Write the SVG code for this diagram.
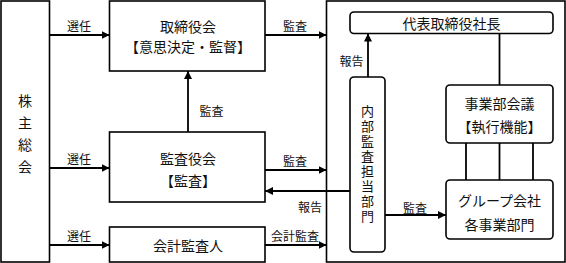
<svg xmlns="http://www.w3.org/2000/svg" width="566" height="263" viewBox="0 0 566 263">
<defs>
<marker id="ah" markerWidth="8" markerHeight="8" refX="8" refY="4" orient="auto" markerUnits="userSpaceOnUse">
<path d="M0,0 L8,4 L0,8 Z" fill="#000"/>
</marker>
<style>
.box{fill:#fff;stroke:#000;stroke-width:1.6}
.t{font-family:"Noto Sans CJK JP","Noto Sans",sans-serif;font-size:14px;fill:#111;text-anchor:middle;dominant-baseline:central}
.v{font-family:"Noto Sans CJK JP","Noto Sans",sans-serif;font-size:13px;fill:#111;text-anchor:middle;writing-mode:vertical-rl;letter-spacing:2px}
.s{font-family:"Noto Sans CJK JP","Noto Sans",sans-serif;font-size:12px;fill:#111;text-anchor:middle;dominant-baseline:central}
.c{fill:none;stroke:#000;stroke-width:1.8}
.a{fill:none;stroke:#000;stroke-width:1.8;marker-end:url(#ah)}
</style>
</defs>
<rect width="566" height="263" fill="#fff"/>
<g id="exec-area"><rect class="box" x="326.5" y="1" width="238.5" height="261"/></g>
<g id="shareholders">
<rect class="box" x="1" y="1" width="48.5" height="261"/>
<text class="t" x="25" y="100">株</text>
<text class="t" x="25" y="122">主</text>
<text class="t" x="25" y="144">総</text>
<text class="t" x="25" y="166">会</text>
</g>
<g id="board">
<rect class="box" x="109.5" y="1" width="155.5" height="70"/>
<text class="t" x="188" y="26">取締役会</text>
<text class="t" x="188" y="46">【意思決定・監督】</text>
</g>
<g id="audit-board">
<rect class="box" x="109.5" y="132" width="155.5" height="70"/>
<text class="t" x="188" y="158">監査役会</text>
<text class="t" x="188" y="180">【監査】</text>
</g>
<g id="accounting-auditor">
<rect class="box" x="109.5" y="227" width="155.5" height="35"/>
<text class="t" x="188" y="245">会計監査人</text>
</g>
<g id="president">
<rect class="box" x="350" y="12" width="203" height="21.5" rx="4"/>
<text class="t" x="451.5" y="22.5">代表取締役社長</text>
</g>
<g id="internal-audit">
<rect class="box" x="350" y="77" width="35" height="175" rx="4"/>
<text class="v" x="367.5" y="165">内部監査担当部門</text>
</g>
<g id="division-meeting">
<rect class="box" x="446" y="85" width="107" height="58" rx="4"/>
<text class="t" x="499.5" y="103">事業部会議</text>
<text class="t" x="499.5" y="126">【執行機能】</text>
</g>
<g id="group-companies">
<rect class="box" x="446" y="180" width="107" height="59" rx="4"/>
<text class="t" x="499.5" y="200">グループ会社</text>
<text class="t" x="499.5" y="224">各事業部門</text>
</g>
<g id="connectors">
<line class="a" x1="49.5" y1="35" x2="109.5" y2="35"/>
<line class="a" x1="49.5" y1="168" x2="109.5" y2="168"/>
<line class="a" x1="49.5" y1="245" x2="109.5" y2="245"/>
<line class="a" x1="188" y1="132" x2="188" y2="71"/>
<line class="a" x1="265" y1="35" x2="326.5" y2="35"/>
<line class="a" x1="265" y1="170" x2="326.5" y2="170"/>
<line class="a" x1="350" y1="191" x2="265" y2="191"/>
<line class="a" x1="265" y1="245" x2="326.5" y2="245"/>
<line class="a" x1="368" y1="77" x2="368" y2="33.5"/>
<line class="a" x1="385" y1="215" x2="446" y2="215"/>
<line class="c" x1="499.5" y1="33.5" x2="499.5" y2="85"/>
<line class="c" x1="466" y1="143" x2="466" y2="180"/>
<line class="c" x1="499.5" y1="143" x2="499.5" y2="180"/>
<line class="c" x1="533" y1="143" x2="533" y2="180"/>
<text class="s" x="79" y="25">選任</text>
<text class="s" x="79" y="158">選任</text>
<text class="s" x="79" y="235">選任</text>
<text class="s" x="211.5" y="110">監査</text>
<text class="s" x="295" y="25">監査</text>
<text class="s" x="295" y="160">監査</text>
<text class="s" x="310" y="206">報告</text>
<text class="s" x="295" y="235">会計監査</text>
<text class="s" x="351.5" y="60">報告</text>
<text class="s" x="415" y="207">監査</text>
</g>
</svg>
